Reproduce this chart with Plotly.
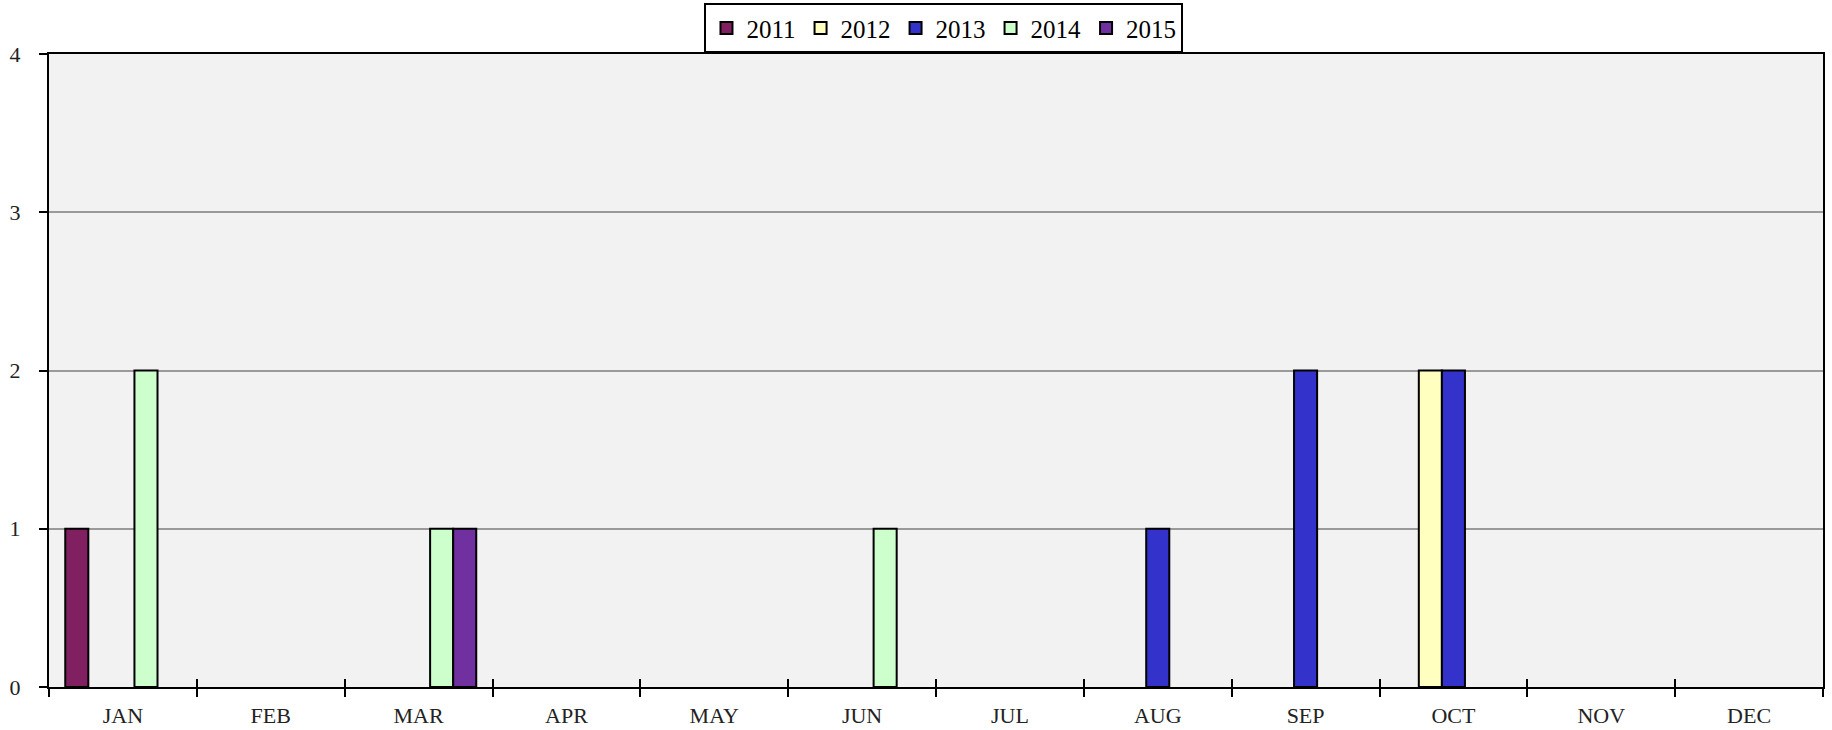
import plotly.graph_objects as go

months = ["JAN", "FEB", "MAR", "APR", "MAY", "JUN", "JUL", "AUG", "SEP", "OCT", "NOV", "DEC"]
years = ["2011", "2012", "2013", "2014", "2015"]
v2011 = [1, 0, 0, 0, 0, 0, 0, 0, 0, 0, 0, 0]
v2012 = [0, 0, 0, 0, 0, 0, 0, 0, 0, 2, 0, 0]
v2013 = [0, 0, 0, 0, 0, 0, 0, 1, 2, 2, 0, 0]
v2014 = [2, 0, 1, 0, 0, 1, 0, 0, 0, 0, 0, 0]
v2015 = [0, 0, 1, 0, 0, 0, 0, 0, 0, 0, 0, 0]
series = [v2011, v2012, v2013, v2014, v2015]
colors = ["#802060", "#FFFFC0", "#3333CC", "#CCFFCC", "#7030A0"]
y_ticks = [0, 1, 2, 3, 4]

FONT = "Liberation Serif, Times New Roman, serif"

fig = go.Figure()
for name, vals, col in zip(years, series, colors):
    fig.add_trace(go.Bar(
        x=months, y=[v if v else None for v in vals], name=name,
        marker=dict(color=col, line=dict(color="black", width=2)),
    ))

# invisible helper trace for the inner half of the crossing x ticks
fig.add_trace(go.Scatter(x=[0], y=[0], xaxis="x2", yaxis="y", mode="markers",
                         marker=dict(opacity=0), showlegend=False, hoverinfo="skip"))

fig.update_layout(
    width=1832, height=730,
    margin=dict(l=49, r=9, t=54, b=43, autoexpand=False),
    paper_bgcolor="white",
    plot_bgcolor="#F2F2F2",
    barmode="group",
    bargap=0.22,
    bargroupgap=0,
    font=dict(family=FONT, color="black", size=22),
    legend=dict(
        orientation="h",
        x=0.5045, xanchor="center",
        y=1.08, yanchor="top",
        bgcolor="white",
        bordercolor="black",
        borderwidth=2,
        font=dict(family=FONT, size=25, color="black"),
        itemwidth=30,
        tracegroupgap=0,
        traceorder="normal",
    ),
    xaxis=dict(
        type="category",
        categoryorder="array", categoryarray=months,
        tickson="boundaries",
        ticks="outside", ticklen=8, tickwidth=2, tickcolor="black",
        showline=True, linecolor="black", linewidth=2, mirror=True,
        showgrid=False,
        ticklabelstandoff=8,
        tickfont=dict(family=FONT, size=22, color="#222222"),
    ),
    xaxis2=dict(
        overlaying="x", range=[-0.5, 11.5],
        tick0=-0.5, dtick=1,
        ticks="inside", ticklen=8, tickwidth=2, tickcolor="black",
        showticklabels=False, showgrid=False, showline=False,
        zeroline=False, side="bottom",
    ),
    yaxis=dict(
        range=[0, 4],
        tickvals=y_ticks,
        ticks="outside", ticklen=8, tickwidth=2, tickcolor="black",
        showline=True, linecolor="black", linewidth=2, mirror=True,
        showgrid=True, gridcolor="#9A9A9A", gridwidth=2,
        zeroline=False,
        ticklabelstandoff=14,
        tickfont=dict(family=FONT, size=22, color="#222222"),
    ),
)

fig.write_html(
    "out.html",
    config={"displayModeBar": False},
    post_script="document.body.style.margin='0';document.body.style.overflow='hidden';",
)
